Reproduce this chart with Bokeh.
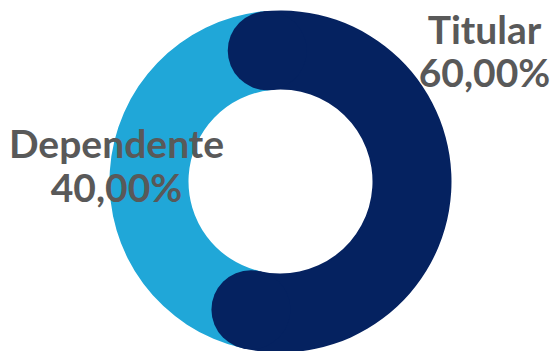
import math
from bokeh.plotting import figure
from bokeh.models import Range1d
from bokeh.embed import file_html
from bokeh.resources import INLINE
from bokeh.core.properties import value

# ---- data ----
categories = ["Titular", "Dependente"]
values = [60.0, 40.0]
colors = ["#052260", "#20A7D8"]

# ---- layout ----
W, H = 554, 351
cx, cy = 280, 170
r_out, r_in = 171, 92
mid_r = (r_out + r_in) / 2
half_w = (r_out - r_in) / 2
start_deg = -14.4  # clockwise from top

total = sum(values)
spans = [v / total * 360 for v in values]
cap_deg = math.degrees(half_w / mid_r)
inset = cap_deg / 2

def bk(theta):
    return math.radians(90 - theta)

p = figure(width=W, height=H, output_backend="svg", toolbar_location=None,
           x_range=Range1d(0, W), y_range=Range1d(0, H), min_border=0)
p.axis.visible = False
p.grid.visible = False
p.outline_line_color = None
p.background_fill_color = "white"

t0 = start_deg
t1 = start_deg + spans[0]
a_start = t0 + inset
a_end = t1 - inset

# Dependente (drawn underneath)
p.annular_wedge(x=[cx], y=[cy], inner_radius=r_in, outer_radius=r_out,
                start_angle=bk(a_end), end_angle=bk(a_start + 360), direction="clock",
                fill_color=colors[1], line_color=None)
# Titular
p.annular_wedge(x=[cx], y=[cy], inner_radius=r_in, outer_radius=r_out,
                start_angle=bk(a_start), end_angle=bk(a_end), direction="clock",
                fill_color=colors[0], line_color=None)
cap_x = [cx + mid_r * math.sin(math.radians(t)) for t in (a_start, a_end)]
cap_y = [cy + mid_r * math.cos(math.radians(t)) for t in (a_start, a_end)]
p.circle(x=cap_x, y=cap_y, radius=half_w, fill_color=colors[0], line_color=None)

# labels
def pct(v):
    return f"{v / total * 100:.2f}".replace(".", ",") + "%"

label_pos = [(484, H - 28, H - 71), (116, H - 142, H - 186)]
for cat, v, (lx, ly1, ly2) in zip(categories, values, label_pos):
    p.text(x=[lx, lx], y=[ly1, ly2], text=[cat, pct(v)],
           text_font=value("Lato"), text_font_style="bold", text_font_size="39px",
           text_color="#595959", text_align="center", text_baseline="alphabetic")

open("out.html", "w").write(file_html(p, INLINE))
